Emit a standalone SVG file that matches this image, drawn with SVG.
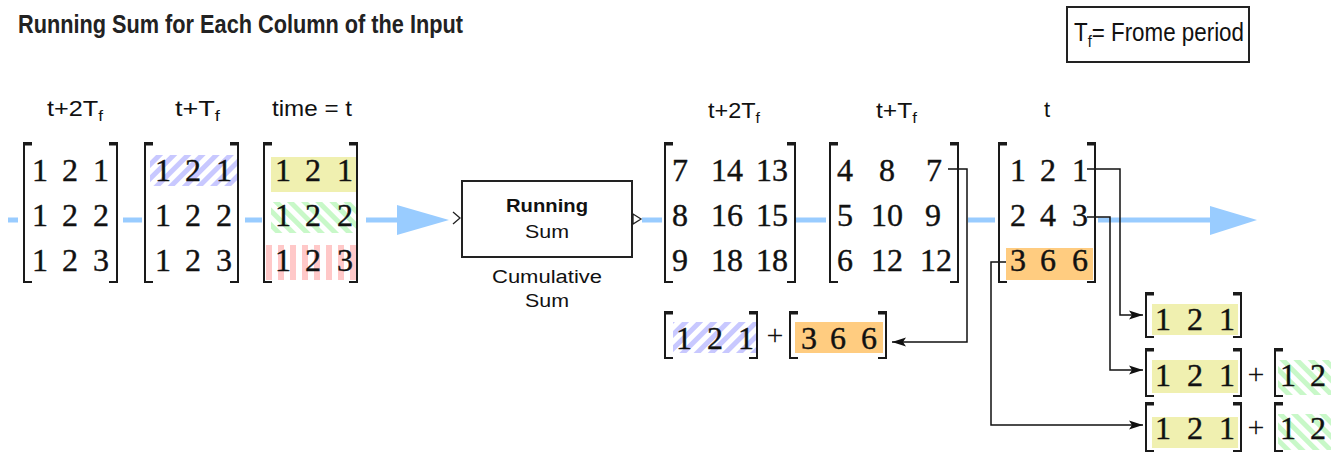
<svg xmlns="http://www.w3.org/2000/svg" width="1331" height="454" viewBox="0 0 1331 454">
<style>
.d{font-family:"Liberation Serif","DejaVu Serif",serif;font-size:32px;fill:#111;stroke:#111;stroke-width:0.4;text-anchor:middle}
.pl{font-family:"Liberation Serif","DejaVu Serif",serif;font-size:30px;fill:#111;text-anchor:middle}
.lb{font-family:"Liberation Sans","DejaVu Sans",sans-serif;font-size:22px;fill:#111}
.bt{font-family:"Liberation Sans","DejaVu Sans",sans-serif;font-size:18px;fill:#111;text-anchor:middle}
.br{fill:none;stroke:#1a1a1a;stroke-width:2}
.brt{fill:none;stroke:#1a1a1a;stroke-width:3}
.sig{fill:none;stroke:#99ccff;stroke-width:5}
.con{fill:none;stroke:#111;stroke-width:1.5}
</style>
<defs>
<pattern id="hb" width="10" height="10" patternUnits="userSpaceOnUse" patternTransform="rotate(45)"><rect width="5" height="10" fill="#c8c8ff"/></pattern>
<pattern id="hg" width="10" height="10" patternUnits="userSpaceOnUse" patternTransform="rotate(-45)"><rect width="5" height="10" fill="#c8f8c8"/></pattern>
<pattern id="hr" width="12" height="12" patternUnits="userSpaceOnUse"><rect x="2" width="6" height="12" fill="#ffc8c8"/></pattern>
<marker id="ah" markerUnits="userSpaceOnUse" markerWidth="15" markerHeight="12" refX="14" refY="6" orient="auto"><path d="M0,1.5 L14,6 L0,10.5 L3,6 Z" fill="#111"/></marker>
</defs>

<text x="18" y="33" style="font-family:'Liberation Sans','DejaVu Sans',sans-serif;font-size:25px;font-weight:bold" fill="#222" textLength="445" lengthAdjust="spacingAndGlyphs">Running Sum for Each Column of the Input</text>

<g id="legend">
<rect x="1067" y="7" width="182" height="55" fill="#fff" stroke="#222" stroke-width="2"/>
<text x="1074" y="41" style="font-family:'Liberation Sans','DejaVu Sans',sans-serif;font-size:26px" fill="#111" textLength="170" lengthAdjust="spacingAndGlyphs">T<tspan style="font-size:17px" dy="6">f</tspan><tspan dy="-6">= Frome period</tspan></text>
</g>

<g id="connectors">
<path class="sig" d="M8,220 H18 M123,220 H142 M245,220 H262 M366,220 H398 M642,220 H662 M796,220 H826 M968,220 H995 M1098,220 H1212"/>
<polygon points="397,205 449,220 397,235" fill="#99ccff"/>
<polygon points="1210,206 1257,220 1210,235" fill="#99ccff"/>
<path class="con" d="M948,169 H967 V342 H892" marker-end="url(#ah)"/>
<path class="con" d="M1087,169 H1120 V315 H1143" marker-end="url(#ah)"/>
<path class="con" d="M1087,217 H1110 V370 H1143" marker-end="url(#ah)"/>
<path class="con" d="M1006,262 H991 V425 H1143" marker-end="url(#ah)"/>
</g>

<g id="m1">
<text class="lb" x="47" y="116" textLength="56" lengthAdjust="spacingAndGlyphs">t+2T<tspan style="font-size:15px" dy="5">f</tspan></text>
<path class="br" d="M32,143 H24 V282 H32 M109,143 H117 V282 H109"/>
<path class="brt" d="M24,144 H32 M109,144 H117"/>
<text class="d" y="181"><tspan x="40">1</tspan><tspan x="70">2</tspan><tspan x="101">1</tspan></text>
<text class="d" y="226"><tspan x="40">1</tspan><tspan x="70">2</tspan><tspan x="101">2</tspan></text>
<text class="d" y="271"><tspan x="40">1</tspan><tspan x="70">2</tspan><tspan x="101">3</tspan></text>
</g>

<g id="m2">
<text class="lb" x="175" y="116" textLength="45" lengthAdjust="spacingAndGlyphs">t+T<tspan style="font-size:15px" dy="5">f</tspan></text>
<rect x="150" y="155" width="87" height="31" fill="url(#hb)"/>
<path class="br" d="M153,143 H145 V282 H153 M230,143 H238 V282 H230"/>
<path class="brt" d="M145,144 H153 M230,144 H238"/>
<text class="d" y="181"><tspan x="163">1</tspan><tspan x="193">2</tspan><tspan x="224">1</tspan></text>
<text class="d" y="226"><tspan x="163">1</tspan><tspan x="193">2</tspan><tspan x="224">2</tspan></text>
<text class="d" y="271"><tspan x="163">1</tspan><tspan x="193">2</tspan><tspan x="224">3</tspan></text>
</g>

<g id="m3">
<text class="lb" x="272" y="116" textLength="80" lengthAdjust="spacingAndGlyphs">time = t</text>
<rect x="271" y="157" width="86" height="35" fill="#f0f0b0"/>
<rect x="271" y="202" width="86" height="31" fill="url(#hg)"/>
<rect x="266" y="245" width="91" height="35" fill="url(#hr)"/>
<path class="br" d="M272,143 H264 V282 H272 M349,143 H357 V282 H349"/>
<path class="brt" d="M264,144 H272 M349,144 H357"/>
<text class="d" y="181"><tspan x="283">1</tspan><tspan x="313">2</tspan><tspan x="345">1</tspan></text>
<text class="d" y="226"><tspan x="283">1</tspan><tspan x="313">2</tspan><tspan x="345">2</tspan></text>
<text class="d" y="271"><tspan x="283">1</tspan><tspan x="313">2</tspan><tspan x="345">3</tspan></text>
</g>

<g id="block">
<path d="M453,212 L460,218 L453,224" fill="none" stroke="#222" stroke-width="1.3"/>
<rect x="462" y="181" width="170" height="76" fill="#fff" stroke="#222" stroke-width="2"/>
<path d="M633,214 L641,219 L633,224 Z" fill="#fff" stroke="#222" stroke-width="1.3"/>
<text class="bt" x="547" y="212" textLength="82" lengthAdjust="spacingAndGlyphs" font-weight="bold">Running</text>
<text class="bt" x="547" y="238" textLength="44" lengthAdjust="spacingAndGlyphs">Sum</text>
<text class="bt" x="547" y="283" textLength="110" lengthAdjust="spacingAndGlyphs">Cumulative</text>
<text class="bt" x="547" y="307" textLength="44" lengthAdjust="spacingAndGlyphs">Sum</text>
</g>

<g id="m4">
<text class="lb" x="708" y="118" textLength="52" lengthAdjust="spacingAndGlyphs">t+2T<tspan style="font-size:15px" dy="5">f</tspan></text>
<path class="br" d="M673,143 H665 V282 H673 M787,143 H795 V282 H787"/>
<path class="brt" d="M665,144 H673 M787,144 H795"/>
<text class="d" y="181"><tspan x="680">7</tspan><tspan x="727">14</tspan><tspan x="772">13</tspan></text>
<text class="d" y="226"><tspan x="680">8</tspan><tspan x="727">16</tspan><tspan x="772">15</tspan></text>
<text class="d" y="271"><tspan x="680">9</tspan><tspan x="727">18</tspan><tspan x="772">18</tspan></text>
</g>

<g id="m5">
<text class="lb" x="876" y="118" textLength="41" lengthAdjust="spacingAndGlyphs">t+T<tspan style="font-size:15px" dy="5">f</tspan></text>
<path class="br" d="M838,143 H830 V282 H838 M950,143 H958 V282 H950"/>
<path class="brt" d="M830,144 H838 M950,144 H958"/>
<text class="d" y="181"><tspan x="845">4</tspan><tspan x="887">8</tspan><tspan x="934">7</tspan></text>
<text class="d" y="226"><tspan x="845">5</tspan><tspan x="887">10</tspan><tspan x="933">9</tspan></text>
<text class="d" y="271"><tspan x="845">6</tspan><tspan x="887">12</tspan><tspan x="936">12</tspan></text>
</g>

<g id="m6">
<text class="lb" x="1047" y="117" text-anchor="middle">t</text>
<rect x="1006" y="248" width="87" height="32" fill="#ffcc80"/>
<path class="br" d="M1007,143 H999 V282 H1007 M1087,143 H1095 V282 H1087"/>
<path class="brt" d="M999,144 H1007 M1087,144 H1095"/>
<text class="d" y="181"><tspan x="1018">1</tspan><tspan x="1048">2</tspan><tspan x="1080">1</tspan></text>
<text class="d" y="226"><tspan x="1018">2</tspan><tspan x="1048">4</tspan><tspan x="1080">3</tspan></text>
<text class="d" y="271"><tspan x="1018">3</tspan><tspan x="1048">6</tspan><tspan x="1080">6</tspan></text>
</g>

<g id="sum-t2">
<rect x="673" y="322" width="83" height="31" fill="url(#hb)"/>
<path class="br" d="M673,312 H665 V358 H673 M749,312 H757 V358 H749"/>
<path class="brt" d="M665,313 H673 M749,313 H757"/>
<text class="d" y="349"><tspan x="684">1</tspan><tspan x="715">2</tspan><tspan x="746">1</tspan></text>
<text class="pl" x="775" y="345">+</text>
<rect x="795" y="322" width="88" height="31" fill="#ffcc80"/>
<path class="br" d="M798,312 H790 V358 H798 M878,312 H886 V358 H878"/>
<path class="brt" d="M790,313 H798 M878,313 H886"/>
<text class="d" y="349"><tspan x="809">3</tspan><tspan x="838">6</tspan><tspan x="869">6</tspan></text>
</g>

<g id="sum-r1">
<rect x="1152" y="304" width="86" height="31" fill="#f0f0b0"/>
<path class="br" d="M1154,293 H1146 V337 H1154 M1233,293 H1241 V337 H1233"/>
<path class="brt" d="M1146,294 H1154 M1233,294 H1241"/>
<text class="d" y="330"><tspan x="1163">1</tspan><tspan x="1195">2</tspan><tspan x="1227">1</tspan></text>
</g>

<g id="sum-r2">
<rect x="1152" y="360" width="86" height="33" fill="#f0f0b0"/>
<path class="br" d="M1154,349 H1146 V396 H1154 M1233,349 H1241 V396 H1233"/>
<path class="brt" d="M1146,350 H1154 M1233,350 H1241"/>
<text class="d" y="386"><tspan x="1163">1</tspan><tspan x="1195">2</tspan><tspan x="1227">1</tspan></text>
<text class="pl" x="1256" y="384">+</text>
<rect x="1278" y="360" width="53" height="35" fill="url(#hg)"/>
<path class="br" d="M1283,349 H1275 V396 H1283"/>
<path class="brt" d="M1275,350 H1283"/>
<text class="d" y="386"><tspan x="1288">1</tspan><tspan x="1318">2</tspan></text>
</g>

<g id="sum-r3">
<rect x="1152" y="417" width="86" height="31" fill="#f0f0b0"/>
<path class="br" d="M1154,403 H1146 V451 H1154 M1233,403 H1241 V451 H1233"/>
<path class="brt" d="M1146,404 H1154 M1233,404 H1241"/>
<text class="d" y="439"><tspan x="1163">1</tspan><tspan x="1195">2</tspan><tspan x="1227">1</tspan></text>
<text class="pl" x="1256" y="437">+</text>
<rect x="1278" y="414" width="53" height="36" fill="url(#hg)"/>
<path class="br" d="M1283,403 H1275 V451 H1283"/>
<path class="brt" d="M1275,404 H1283"/>
<text class="d" y="439"><tspan x="1288">1</tspan><tspan x="1318">2</tspan></text>
</g>
</svg>
